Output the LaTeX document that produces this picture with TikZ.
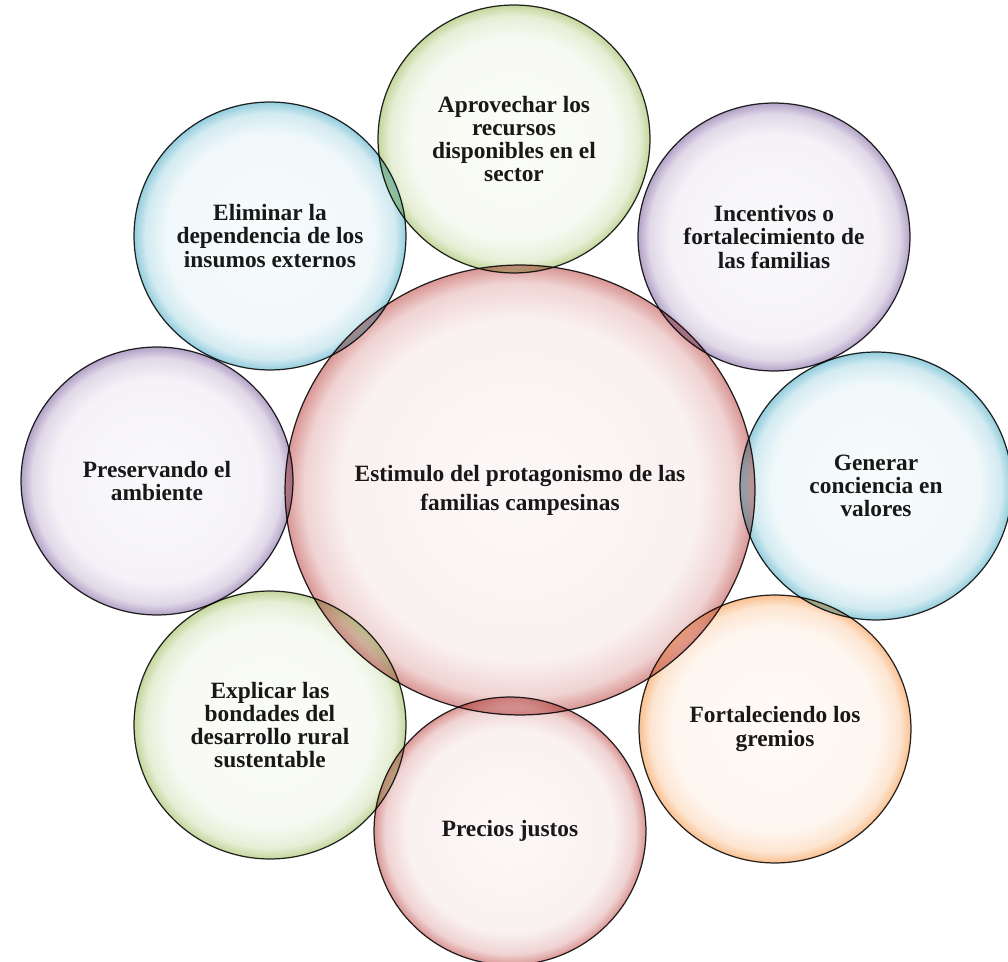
\documentclass[tikz,border=0pt]{standalone}
\usepackage{fontspec}
\setmainfont{Liberation Serif}
\usetikzlibrary{shapes.geometric,positioning}

\definecolor{verde}{HTML}{9BBB59}
\definecolor{morado}{HTML}{8064A2}
\definecolor{azul}{HTML}{4BACC6}
\definecolor{naranja}{HTML}{F79646}
\definecolor{rojo}{HTML}{C0504D}

% sombreado de burbuja: claro al centro, color en el borde
\newcommand{\burbuja}[2]{\pgfdeclareradialshading{#1}{\pgfpointorigin}{color(0bp)=(#2!4!white); color(19bp)=(#2!8!white); color(23bp)=(#2!25!white); color(25bp)=(#2!60!white); color(50bp)=(#2!60!white)}}
\burbuja{bverde}{verde}
\burbuja{bmorado}{morado}
\burbuja{bazul}{azul}
\burbuja{bnaranja}{naranja}
\burbuja{brojo}{rojo}

\tikzset{
  burbuja/.style={ellipse, shade, draw=black!85, line width=0.7pt, minimum width=5.44cm, minimum height=5.36cm, inner sep=0pt, align=center, text=black!90, font=\fontsize{13.3}{13.2}\selectfont\bfseries},
  centro/.style={burbuja, minimum width=9.4cm, minimum height=9cm, font=\fontsize{13.3}{16.5}\selectfont\bfseries}
}

\begin{document}
\begin{tikzpicture}[x=0.02cm, y=-0.02cm, line join=round, line cap=round]
		\useasboundingbox (0,0) rectangle (1008,962);
		\begin{scope}[blend group=multiply]
		\node[centro, shading=brojo] (estimulo) at (520,490) {Estimulo del protagonismo de las\\familias campesinas};
		\foreach \n/\x/\y/\s/\txt in {
			apro/514/139/bverde/{Aprovechar los\\recursos\\disponibles en el\\sector},
			ince/774/237/bmorado/{Incentivos o\\fortalecimiento de\\las familias},
			gene/876/486/bazul/{Generar\\conciencia en\\valores},
			fort/775/729/bnaranja/{Fortaleciendo los\\gremios},
			prec/510/831/brojo/{Precios justos},
			expl/270/725/bverde/{Explicar las\\bondades del\\desarrollo rural\\sustentable},
			pres/157/481/bmorado/{Preservando el\\ambiente},
			elim/270/236/bazul/{Eliminar la\\dependencia de los\\insumos externos}}
			{\node[burbuja, shading=\s] (\n) at (\x,\y) {\txt};}
		\end{scope}
		\end{tikzpicture}
\end{document}
